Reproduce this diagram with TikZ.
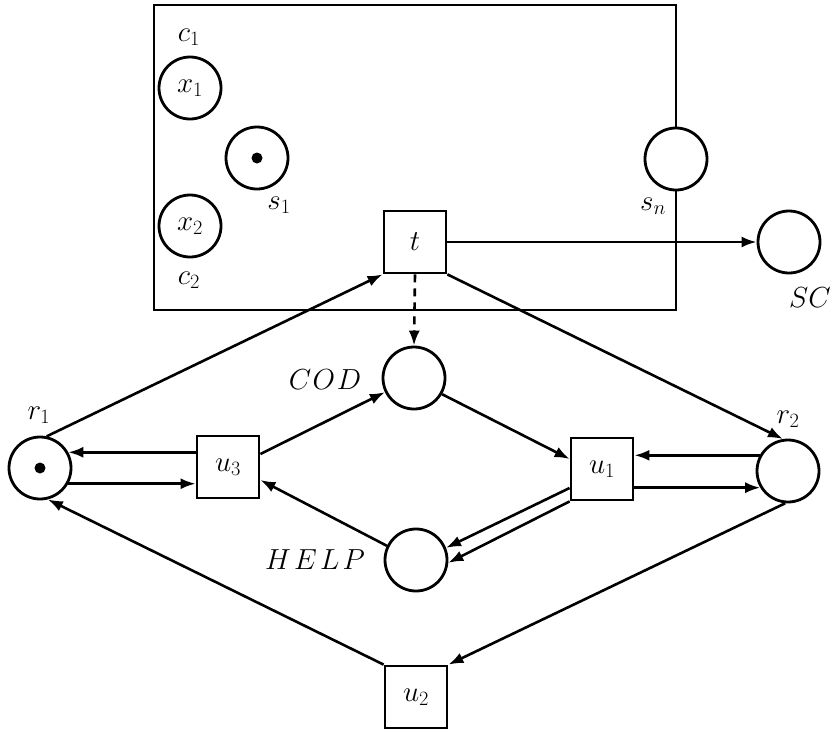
\RequirePackage{fix-cm}
\documentclass[tikz,border=0pt]{standalone}
\usetikzlibrary{arrows.meta}
\begin{document}
\begin{tikzpicture}[x=1pt,y=-1pt,
  every node/.style={font=\fontsize{29}{34}\selectfont},
  place/.style={draw,circle,minimum size=62pt,inner sep=0pt,line width=2.8pt,fill=white},
  trans/.style={draw,rectangle,minimum size=62pt,inner sep=0pt,line width=2.8pt,fill=white},
  token/.style={circle,fill=black,minimum size=11pt,inner sep=0pt},
  arc/.style={line width=2.6pt,-{Latex[length=15pt,width=11pt]}},
  lbl/.style={inner sep=0pt}
]
\useasboundingbox (0,0) rectangle (832,731);

% component boundary
\draw[line width=2.8pt] (154,5) rectangle (676,310);

% places and transitions
\node[place] (x1) at (190,88) {$x_1$};
\node[place] (s1) at (257,158) {};
\node[token] at (s1) {};
\node[place] (x2) at (190,226) {$x_2$};
\node[place] (sn) at (676,159) {};
\node[trans] (t) at (415,242) {$t$};
\node[place] (SC) at (789,242) {};
\node[place] (cod) at (414,378) {};
\node[place] (help) at (416,560) {};
\node[place] (r1) at (40,468) {};
\node[token] at (r1) {};
\node[place] (r2) at (788,471) {};
\node[trans] (u3) at (228,467) {$u_3$};
\node[trans] (u1) at (602,469) {$u_1$};
\node[trans] (u2) at (416,697) {$u_2$};

% labels
\node[lbl] at (189,37) {$c_1$};
\node[lbl] at (189,280) {$c_2$};
\node[lbl] at (279,205) {$s_1$};
\node[lbl] at (653,206) {$s_n$};
\node[lbl] at (810,298) {$SC$};
\node[lbl] at (39,415) {$r_1$};
\node[lbl] at (788,419) {$r_2$};
\node[lbl] at (325,380) {$C\mkern1mu O\mkern1mu D$};
\node[lbl] at (315,560) {$H\mkern2mu E\mkern2mu L\mkern2mu P$};

% arcs
\draw[arc] (t.east) -- (SC.west);
\draw[arc, dash pattern=on 8pt off 6pt] (t.south) -- (cod.north);
\draw[arc] (r1.78) -- (t.south west);
\draw[arc] (t.south east) -- (r2.99);
\draw[arc] (r2.265) -- (u2.north east);
\draw[arc] (u2.north west) -- (r1.284);
\draw[arc] (r1.29 -| u3.west) -- (r1.29);
\draw[arc] (r1.-29) -- (r1.-29 -| u3.west);
\draw[arc] ([yshift=13pt]u3.east) -- (cod.206);
\draw[arc] (help.154) -- ([yshift=-13pt]u3.east);
\draw[arc] (cod.330) -- ([yshift=10pt]u1.west);
\draw[arc] ([yshift=-19pt]u1.west) -- (help.22);
\draw[arc] (u1.south west) -- (help.-5);
\draw[arc] (r2.151) -- (r2.151 -| u1.east);
\draw[arc] (r2.211 -| u1.east) -- (r2.211);
\end{tikzpicture}
\end{document}
